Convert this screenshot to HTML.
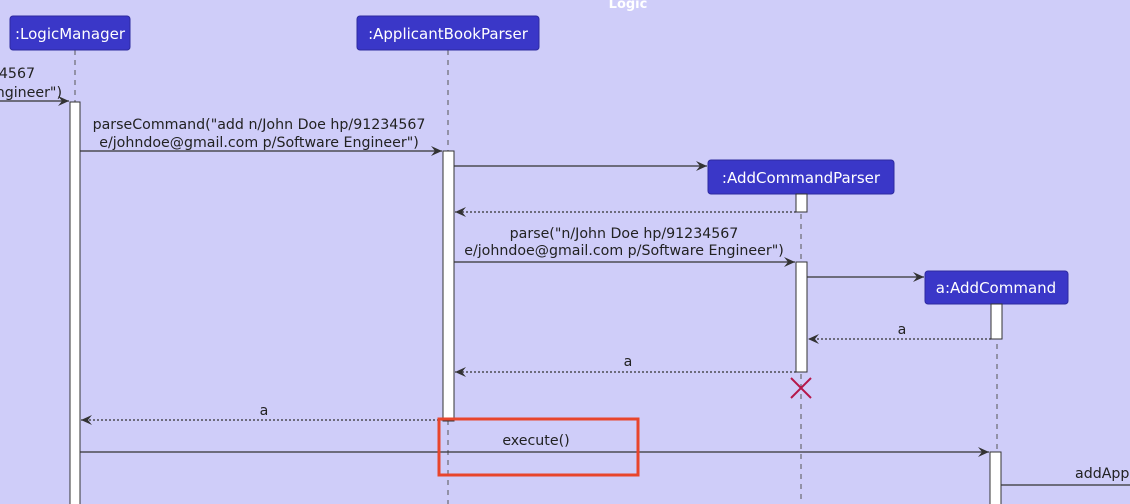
<!DOCTYPE html>
<html><head><meta charset="utf-8"><style>
html,body{margin:0;padding:0;background:#cfcdf9;}
svg{display:block;}
text{font-family:"DejaVu Sans","Liberation Sans",sans-serif;font-size:14.2px;fill:#222;}
.box{fill:#3a37c8;stroke:#2d2aa0;stroke-width:1;}
.bt{fill:#fff;font-size:15px;}
.ll{stroke:#555;stroke-width:1;stroke-dasharray:5,5;}
.act{fill:#fff;stroke:#333;stroke-width:1;}
.m{stroke:#333;stroke-width:1.2;fill:none;}
.d{stroke:#333;stroke-width:1.2;fill:none;stroke-dasharray:2,2;}
</style></head><body>
<svg width="1130" height="504" viewBox="0 0 1130 504" xmlns="http://www.w3.org/2000/svg">
<defs><marker id="ah" markerWidth="12" markerHeight="10" refX="11" refY="5" orient="auto" markerUnits="userSpaceOnUse"><path d="M0,0 L11,5 L0,10 L4,5 Z" fill="#333"/></marker></defs>
<text x="628" y="8" text-anchor="middle" style="fill:#fff;font-weight:bold;font-size:13px">Logic</text>
<line class="ll" x1="75" y1="50" x2="75" y2="504"/>
<line class="ll" x1="448" y1="50" x2="448" y2="504"/>
<line class="ll" x1="801" y1="194" x2="801" y2="504"/>
<line class="ll" x1="997" y1="304" x2="997" y2="504"/>
<rect class="box" x="10" y="16" width="120" height="34" rx="3"/><text class="bt" x="70" y="39" text-anchor="middle">:LogicManager</text>
<rect class="box" x="357" y="16" width="182" height="34" rx="3"/><text class="bt" x="448" y="39" text-anchor="middle">:ApplicantBookParser</text>
<rect class="box" x="708" y="160" width="186" height="34" rx="3"/><text class="bt" x="801" y="183" text-anchor="middle">:AddCommandParser</text>
<rect class="box" x="925" y="271" width="143" height="33" rx="3"/><text class="bt" x="996" y="293" text-anchor="middle">a:AddCommand</text>
<rect class="act" x="70" y="102" width="10" height="410"/>
<rect class="act" x="443" y="151" width="11" height="270"/>
<rect class="act" x="796" y="194" width="11" height="18"/>
<rect class="act" x="796" y="262" width="11" height="110"/>
<rect class="act" x="991" y="304" width="11" height="35"/>
<rect class="act" x="990" y="452" width="11" height="60"/>
<line class="m" x1="0" y1="101" x2="69" y2="101" marker-end="url(#ah)"/>
<text x="35" y="78" text-anchor="end">34567</text><text x="62" y="97" text-anchor="end">ngineer")</text>
<text x="259" y="129" text-anchor="middle">parseCommand("add n/John Doe hp/91234567</text>
<text x="259" y="147" text-anchor="middle">e/johndoe@gmail.com p/Software Engineer")</text>
<line class="m" x1="80" y1="151" x2="442" y2="151" marker-end="url(#ah)"/>
<line class="m" x1="454" y1="166" x2="707" y2="166" marker-end="url(#ah)"/>
<line class="d" x1="796" y1="212" x2="455" y2="212" marker-end="url(#ah)"/>
<text x="624" y="238" text-anchor="middle">parse("n/John Doe hp/91234567</text>
<text x="624" y="255" text-anchor="middle">e/johndoe@gmail.com p/Software Engineer")</text>
<line class="m" x1="454" y1="262" x2="795" y2="262" marker-end="url(#ah)"/>
<line class="m" x1="807" y1="277" x2="924" y2="277" marker-end="url(#ah)"/>
<text x="902" y="334" text-anchor="middle">a</text>
<line class="d" x1="991" y1="339" x2="808" y2="339" marker-end="url(#ah)"/>
<text x="628" y="366" text-anchor="middle">a</text>
<line class="d" x1="796" y1="372" x2="455" y2="372" marker-end="url(#ah)"/>
<path d="M791,378 L811,398 M811,378 L791,398" stroke="#b5174a" stroke-width="2"/>
<text x="264" y="415" text-anchor="middle">a</text>
<line class="d" x1="443" y1="420" x2="81" y2="420" marker-end="url(#ah)"/>
<text x="536" y="445" text-anchor="middle">execute()</text>
<line class="m" x1="80" y1="452" x2="989" y2="452" marker-end="url(#ah)"/>
<text x="1075" y="478">addApp</text>
<line class="m" x1="1001" y1="485" x2="1130" y2="485"/>
<rect x="439" y="419" width="199" height="56" fill="none" stroke="#e8452c" stroke-width="3"/>
</svg>
</body></html>
